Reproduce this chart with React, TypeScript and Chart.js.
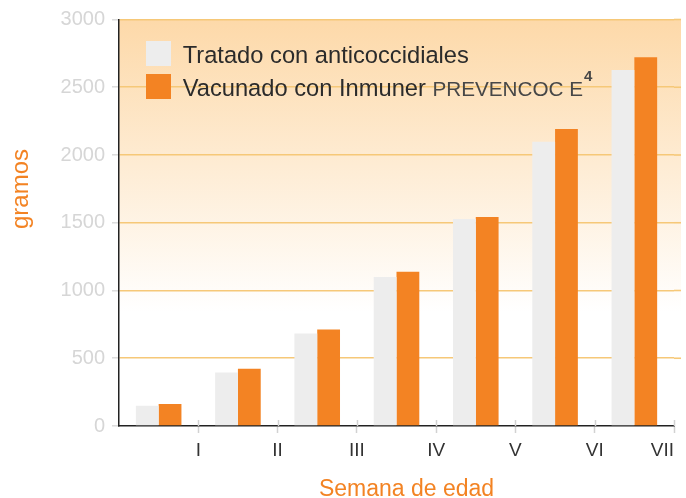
import React, { useEffect, useRef } from 'react';
import { Chart, registerables } from 'chart.js';

Chart.register(...registerables);

// ---- data ----
const categories = ['I', 'II', 'III', 'IV', 'V', 'VI', 'VII'];
const weekTickLabels = ['I', 'II', 'III', 'IV', 'V', 'VI', 'VII'];
const tratadoValues = [150, 395, 683, 1100, 1528, 2098, 2627];
const vacunadoValues = [163, 423, 713, 1138, 1543, 2192, 2722];
const seriesLabels = ['Tratado con anticoccidiales', 'Vacunado con Inmuner PREVENCOC E4'];
const secondLegendParts = ['Vacunado con Inmuner ', 'PREVENCOC E', '4'];
const yAxisTitle = 'gramos';
const xAxisTitle = 'Semana de edad';

// ---- style ----
const FONT = "'Liberation Sans', Arial, Helvetica, sans-serif";
const GRAY = '#ededed';
const ORANGE = '#f38323';
const TITLE_COLOR = '#f38323';
const GRID_COLOR = '#f6c878';
const PLOT_EXTEND = 7;

const decorPlugin = {
  id: 'decor',
  beforeDraw(chart: any) {
    const { ctx, chartArea: a } = chart;
    const g = ctx.createLinearGradient(0, a.top, 0, a.bottom);
    g.addColorStop(0, '#fdd9a9');
    g.addColorStop(0.72, '#ffffff');
    g.addColorStop(1, '#ffffff');
    ctx.save();
    ctx.fillStyle = g;
    ctx.fillRect(a.left, a.top, a.right - a.left + PLOT_EXTEND, a.bottom - a.top);
    ctx.restore();
  },
  afterDatasetsDraw(chart: any) {
    const { ctx, chartArea: a } = chart;
    const x2 = chart.scales.x2;
    const y = chart.scales.y;
    ctx.save();
    ctx.strokeStyle = '#d2d2d2';
    ctx.lineWidth = 1.5;
    for (let v = 1; v <= weekTickLabels.length; v++) {
      const px = Math.round(x2.getPixelForValue(v)) + 0.5;
      ctx.beginPath();
      ctx.moveTo(px, a.bottom - 6);
      ctx.lineTo(px, a.bottom);
      ctx.stroke();
    }
    ctx.strokeStyle = GRID_COLOR;
    ctx.lineWidth = 1.6;
    y.ticks.forEach((t: any) => {
      if (t.value === 0) return;
      const py = y.getPixelForValue(t.value);
      ctx.beginPath();
      ctx.moveTo(a.right, py);
      ctx.lineTo(a.right + PLOT_EXTEND, py);
      ctx.stroke();
    });
    ctx.restore();
  },
  afterDraw(chart: any) {
    const { ctx, chartArea: a } = chart;
    ctx.save();
    // legend
    const sx = a.left + 27;
    const tx = sx + 36.7;
    ctx.fillStyle = chart.data.datasets[0].backgroundColor;
    ctx.fillRect(sx, 41, 25, 25);
    ctx.fillStyle = chart.data.datasets[1].backgroundColor;
    ctx.fillRect(sx, 74, 25, 25);
    ctx.textBaseline = 'alphabetic';
    ctx.textAlign = 'left';
    ctx.fillStyle = '#2b2b2b';
    ctx.font = `23.7px ${FONT}`;
    ctx.fillText(seriesLabels[0], tx, 63.3);
    let x = tx;
    ctx.fillText(secondLegendParts[0], x, 96);
    x += ctx.measureText(secondLegendParts[0]).width;
    ctx.font = `20.7px ${FONT}`;
    ctx.fillStyle = '#474747';
    ctx.fillText(secondLegendParts[1], x, 96);
    x += ctx.measureText(secondLegendParts[1]).width + 1;
    ctx.font = `bold 15px ${FONT}`;
    ctx.fillText(secondLegendParts[2], x, 80.5);

    // axis titles
    ctx.fillStyle = TITLE_COLOR;
    ctx.font = `24px ${FONT}`;
    ctx.textAlign = 'center';
    ctx.save();
    ctx.translate(28, 189);
    ctx.rotate(-Math.PI / 2);
    ctx.fillText(yAxisTitle, 0, 0);
    ctx.restore();
    ctx.font = `23px ${FONT}`;
    ctx.fillText(xAxisTitle, 406.5, 496);
    ctx.restore();
  },
};

export default function App() {
  const ref = useRef<HTMLCanvasElement | null>(null);

  useEffect(() => {
    document.body.style.margin = '0';
    document.body.style.overflow = 'hidden';
    const canvas = ref.current;
    if (!canvas) return;
    const chart = new Chart(canvas, {
      type: 'bar',
      data: {
        labels: categories,
        datasets: [
          {
            label: seriesLabels[0],
            data: tratadoValues,
            backgroundColor: GRAY,
            borderWidth: 0,
            categoryPercentage: 0.575,
            barPercentage: 1,
          },
          {
            label: seriesLabels[1],
            data: vacunadoValues,
            backgroundColor: ORANGE,
            borderWidth: 0,
            categoryPercentage: 0.575,
            barPercentage: 1,
          },
        ],
      },
      options: {
        animation: false,
        responsive: false,
        devicePixelRatio: 1,
        layout: { padding: { top: 19.5, right: 12, left: 0, bottom: 0 } },
        plugins: {
          legend: { display: false },
          tooltip: { enabled: false },
          title: { display: false },
        },
        scales: {
          x: {
            type: 'category',
            display: false,
            offset: true,
          },
          x2: {
            type: 'linear',
            position: 'bottom',
            offset: false,
            min: 0,
            max: weekTickLabels.length,
            afterFit: (s: any) => {
              s.height = 72;
            },
            ticks: {
              stepSize: 1,
              autoSkip: false,
              maxRotation: 0,
              align: 'inner',
              padding: 6,
              color: '#333333',
              font: { family: FONT, size: 19 },
              callback: (v: any) => (v >= 1 ? weekTickLabels[v - 1] : ''),
            },
            grid: {
              offset: false,
              drawOnChartArea: false,
              drawTicks: true,
              tickLength: 7,
              tickWidth: 1.5,
              tickColor: (c: any) => (c.tick && c.tick.value === 0 ? 'rgba(0,0,0,0)' : '#d2d2d2'),
            },
            border: { display: true, color: '#222222', width: 1.5 },
          },
          y: {
            min: 0,
            max: 3000,
            afterFit: (s: any) => {
              s.width = 119;
            },
            ticks: {
              stepSize: 500,
              padding: 7,
              color: '#d6d6d6',
              font: { family: FONT, size: 20 },
              callback: (v: any) => String(v),
            },
            grid: {
              color: (c: any) => (c.tick && c.tick.value === 0 ? 'rgba(0,0,0,0)' : GRID_COLOR),
              lineWidth: 1.6,
              tickLength: 7,
              tickColor: '#dcdcdc',
              tickWidth: 1.5,
            },
            border: { display: true, color: '#222222', width: 1.5 },
          },
        },
      },
      plugins: [decorPlugin],
    } as any);
    return () => chart.destroy();
  }, []);

  return (
    <div style={{ width: 686, height: 498, position: 'relative', background: '#ffffff' }}>
      <canvas ref={ref} width={686} height={498} />
    </div>
  );
}
